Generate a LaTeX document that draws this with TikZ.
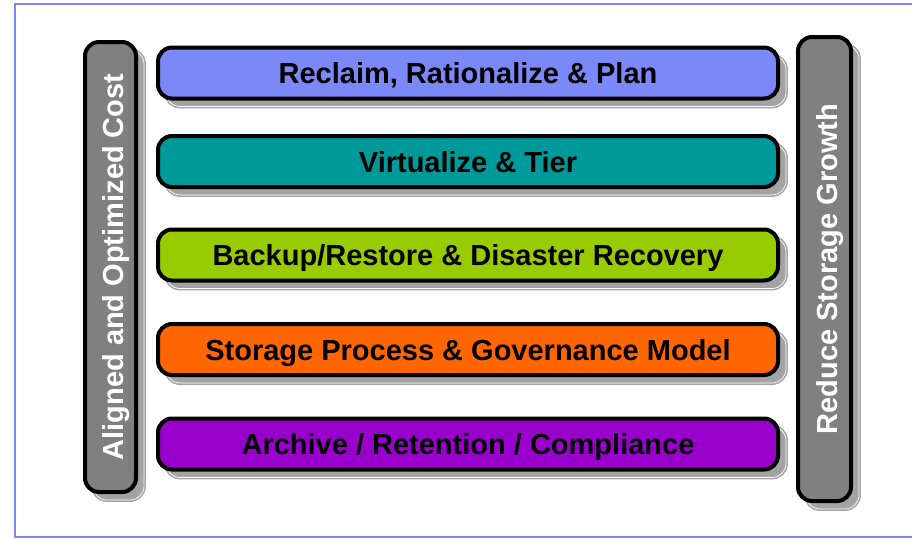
\documentclass[tikz,border=0pt]{standalone}
\usepackage{fontspec}
\setmainfont{Liberation Sans}
\usepackage{graphicx}
\definecolor{framec}{HTML}{7D86F5}
\definecolor{c1}{HTML}{7B88F8}
\definecolor{c2}{HTML}{009999}
\definecolor{c3}{HTML}{99CC00}
\definecolor{c4}{HTML}{FF6600}
\definecolor{c5}{HTML}{9900CC}
\definecolor{sidec}{HTML}{808080}
\definecolor{shc}{HTML}{A3A3A3}
\newcommand{\sidetext}[1]{\rotatebox{90}{\raisebox{0pt}[25pt][0pt]{#1}}}
\tikzset{
  shadowed/.style={preaction={draw=shc, fill=shc, line width=1.6pt, double=white, double distance=0.7pt,
      transform canvas={xshift=8pt,yshift=-8pt}}},
  barbox/.style={shadowed, rounded corners=14pt, draw=black, line width=4pt, fill=#1,
      minimum width=620pt, minimum height=51pt, inner sep=0pt, text height=21pt, text depth=0pt,
      font=\bfseries\fontsize{29}{31}\selectfont, text=black},
  sidebox/.style={shadowed, rounded corners=14pt, draw=black, line width=4pt, fill=sidec,
      inner sep=0pt, font=\bfseries\fontsize{29}{31}\selectfont, text=white}
}
\begin{document}
\begin{tikzpicture}[x=1pt,y=-1pt]
\useasboundingbox (0,0) rectangle (912,538);
\draw[framec, line width=2pt] (15,4) rectangle (925,537);

\node[sidebox, minimum width=51pt, minimum height=450pt] (left) at (110.5,267) {\sidetext{Aligned and Optimized Cost}};
\node[sidebox, minimum width=53pt, minimum height=464pt] (right) at (824.5,269) {\sidetext{Reduce Storage Growth}};

\node[barbox=c1] (b1) at (468,73) {Reclaim, Rationalize \& Plan};
\node[barbox=c2] (b2) at (468,161.5) {Virtualize \& Tier};
\node[barbox=c3] (b3) at (468,255) {Backup/Restore \& Disaster Recovery};
\node[barbox=c4] (b4) at (468,349.5) {Storage Process \& Governance Model};
\node[barbox=c5] (b5) at (468,444) {Archive / Retention / Compliance};
\end{tikzpicture}
\end{document}
